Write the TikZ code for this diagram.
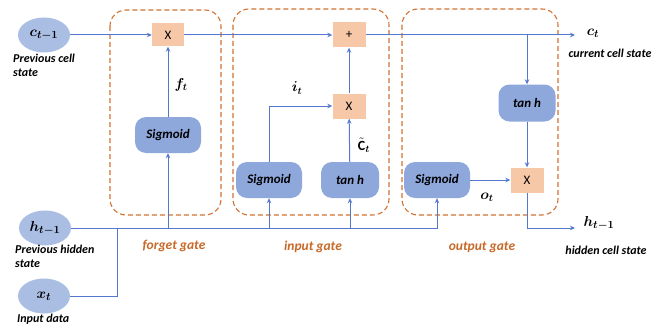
\documentclass[tikz,border=0pt]{standalone}
\usepackage{amsmath}
\usepackage{fontspec}
\setmainfont{Carlito}
\usetikzlibrary{arrows.meta,shapes.geometric}
\definecolor{lineblue}{RGB}{84,120,206}
\definecolor{ellblue}{RGB}{170,190,228}
\definecolor{actblue}{RGB}{142,168,220}
\definecolor{opfill}{RGB}{247,200,168}
\definecolor{gateor}{RGB}{210,115,50}
\definecolor{labor}{RGB}{200,105,40}
\tikzset{
  ln/.style={draw=lineblue, line width=1pt},
  arr/.style={ln, -{Stealth[length=5pt,width=4.5pt]}},
  ell/.style={ellipse, fill=ellblue, minimum width=52pt, minimum height=35pt, inner sep=0pt, font=\fontsize{15}{17}\selectfont},
  opbox/.style={fill=opfill, minimum width=32pt, minimum height=23pt, inner sep=0pt, font=\fontsize{13}{15}\selectfont},
  actbox/.style={fill=actblue, rounded corners=11pt, minimum width=66pt, minimum height=36pt, inner sep=0pt, font=\bfseries\itshape\fontsize{13}{15}\selectfont},
  gatebox/.style={draw=gateor, line width=1.1pt, dash pattern=on 5pt off 3pt, rounded corners=16pt},
  small/.style={font=\bfseries\itshape\fontsize{12}{14}\selectfont, inner sep=0pt},
  gatelab/.style={font=\bfseries\itshape\fontsize{13.5}{15}\selectfont, text=labor, inner sep=0pt},
  mlab/.style={font=\fontsize{14}{16}\selectfont, inner sep=0pt}
}
\begin{document}
\begin{tikzpicture}[x=1pt,y=-1pt]
\useasboundingbox[fill=white] (0,0) rectangle (661,329);
% gate boxes
\draw[gatebox] (110,10) rectangle (221,215);
\draw[gatebox] (233,9) rectangle (389,215);
\draw[gatebox] (402,9) rectangle (558,215);
% nodes
\node[ell] (c) at (44,35) {$\boldsymbol{c_{t-1}}$};
\node[ell] (h) at (45,228) {$\boldsymbol{h_{t-1}}$};
\node[ell] (x) at (44,296) {$\boldsymbol{x_t}$};
\node[opbox] (fx) at (168,35) {X};
\node[actbox] (fs) at (168,135) {Sigmoid};
\node[opbox, minimum width=33pt, minimum height=25pt] (plus) at (349,35) {+};
\node[opbox, minimum width=33pt, minimum height=25pt] (ix) at (349,106) {X};
\node[actbox] (is) at (269,180) {Sigmoid};
\node[actbox, minimum width=58pt] (it) at (350,180) {tan h};
\node[actbox, minimum width=57pt, minimum height=37pt] (ot) at (527,103) {tan h};
\node[opbox, minimum width=33pt, minimum height=25pt] (ox) at (527,180) {X};
\node[actbox] (os) at (437,180) {Sigmoid};
\coordinate (ct) at (575,35);
\coordinate (ht) at (575,228);
\coordinate (j) at (117,228);
% connectors
\draw[arr] (c) -- (fx);
\draw[arr] (fx) -- (plus);
\draw[arr] (plus) -- (ct);
\draw[arr] (fs) -- (fx);
\draw[arr] (ix) -- (plus);
\draw[arr] (is.north) |- (ix.west);
\draw[arr] (it) -- (ix);
\draw[arr] (ot.north |- plus.east) -- (ot.north);
\draw[arr] (ot) -- (ox);
\draw[arr] (os) -- (ox);
\draw[arr] (ox.south) |- (ht);
\draw[arr] (h.east) -| (os.south);
\draw[ln] (x.east) -| (j);
\draw[arr] (fs.south |- h.east) -- (fs.south);
\draw[arr] (is.south |- h.east) -- (is.south);
\draw[arr] (it.south |- h.east) -- (it.south);
% math labels
\node[mlab] (lf) at (181,85) {$\boldsymbol{f_t}$};
\node[mlab] (li) at (297,88) {$\boldsymbol{i_t}$};
\node[mlab] (lc) at (364,145) {$\tilde{\mathbf{C}}_{\boldsymbol{t}}$};
\node[mlab] (lo) at (487,197) {$\boldsymbol{o_t}$};
\node[mlab, font=\fontsize{15}{17}\selectfont] (lct) at (593,33) {$\boldsymbol{c_t}$};
\node[mlab, font=\fontsize{15}{17}\selectfont] (lht) at (599,223) {$\boldsymbol{h_{t-1}}$};
% text labels
\node[small, align=left, anchor=north west] (t1) at (13,54) {Previous cell\\state};
\node[small, align=left, anchor=north west] (t2) at (15,245) {Previous hidden\\state};
\node[small, anchor=north west] (t3) at (17,314) {Input data};
\node[small] (t4) at (610,53) {current cell state};
\node[small] (t5) at (606,250) {hidden cell state};
\node[gatelab] (g1) at (174,246) {forget gate};
\node[gatelab] (g2) at (313,247) {input gate};
\node[gatelab] (g3) at (482,247) {output gate};
\end{tikzpicture}
\end{document}
